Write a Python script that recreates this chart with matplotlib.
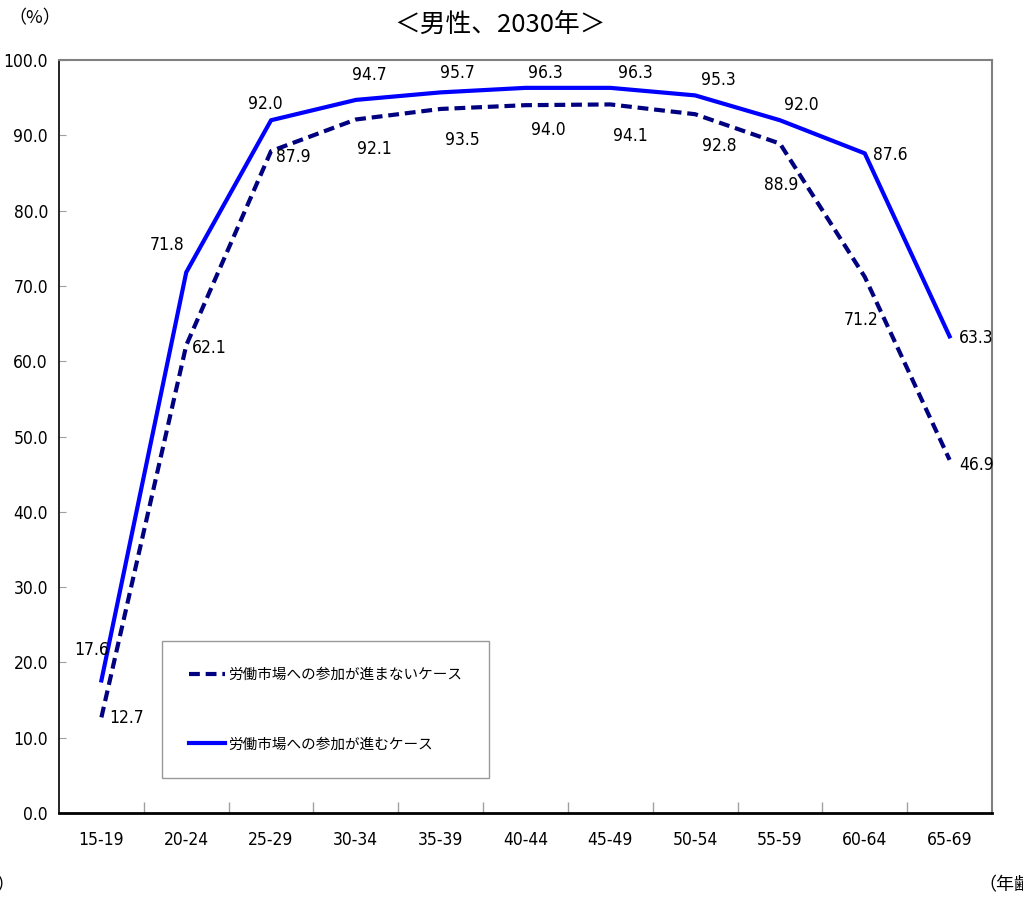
import matplotlib
matplotlib.use("Agg")
import matplotlib.pyplot as plt
from matplotlib import font_manager as fm

ages = ["15-19", "20-24", "25-29", "30-34", "35-39", "40-44",
        "45-49", "50-54", "55-59", "60-64", "65-69"]
no_progress = [12.7, 62.1, 87.9, 92.1, 93.5, 94.0, 94.1, 92.8, 88.9, 71.2, 46.9]
progress = [17.6, 71.8, 92.0, 94.7, 95.7, 96.3, 96.3, 95.3, 92.0, 87.6, 63.3]
yticks = [0, 10, 20, 30, 40, 50, 60, 70, 80, 90, 100]

label_no = "労働市場への参加が進まないケース"
label_yes = "労働市場への参加が進むケース"

# label offsets in pixels (layout only)
off_yes = [(-10, 30), (-19, 27), (-6, 16), (14, 25), (17, 19), (20, 15),
           (25, 15), (23, 15), (21, 15), (26, -2), (27, -2)]
off_no = [(25, -1), (23, -3), (22, -6), (19, -30), (22, -31), (23, -25),
          (20, -32), (24, -32), (1, -41), (-4, -43), (27, -5)]

num_prop = fm.FontProperties(family="DejaVu Sans", stretch="condensed")
jp = ["Noto Sans CJK JP", "DejaVu Sans"]

fig = plt.figure(figsize=(10.23, 9.01), dpi=100)
ax = fig.add_axes([59 / 1023, 1 - 813 / 901, (992 - 59) / 1023, (813 - 60) / 901])

x = list(range(len(ages)))
ax.plot(x, no_progress, color="#000080", lw=3, linestyle=(0, (2.6, 1.4)),
        label=label_no, solid_capstyle="butt")
ax.plot(x, progress, color="#0000FF", lw=3, label=label_yes)

nfs = 12.5
for i, v in enumerate(progress):
    ax.annotate(f"{v:.1f}", (i, v), xytext=off_yes[i], textcoords="offset pixels",
                ha="center", va="center", fontproperties=num_prop, fontsize=nfs)
for i, v in enumerate(no_progress):
    ax.annotate(f"{v:.1f}", (i, v), xytext=off_no[i], textcoords="offset pixels",
                ha="center", va="center", fontproperties=num_prop, fontsize=nfs)

ax.set_xlim(-0.5, len(ages) - 0.5)
ax.set_ylim(0, 100)
ax.set_yticks(yticks)
ax.set_yticklabels([f"{t:.1f}" for t in yticks])
ax.set_xticks(x)
ax.set_xticklabels(ages)
for lab in ax.get_xticklabels() + ax.get_yticklabels():
    lab.set_fontproperties(num_prop)
    lab.set_fontsize(nfs)
ax.tick_params(axis="x", length=0, pad=13)
ax.set_xticks([i + 0.5 for i in x[:-1]], minor=True)
ax.tick_params(axis="x", which="minor", direction="in", length=8, color="#a0a0a0", width=1)
ax.tick_params(axis="y", direction="in", length=5, color="#a0a0a0", pad=8)

for s in ["top", "right"]:
    ax.spines[s].set_color("#808080")
    ax.spines[s].set_linewidth(1.5)
ax.spines["left"].set_color("black")
ax.spines["left"].set_linewidth(1.2)
ax.spines["bottom"].set_color("black")
ax.spines["bottom"].set_linewidth(2)

leg = ax.legend(loc="upper left", bbox_to_anchor=((162 - 59) / 933, (813 - 641) / 753),
                prop={"family": jp, "size": 10.5}, frameon=True, fancybox=False,
                edgecolor="#808080", handlelength=2.5, handletextpad=0.2,
                labelspacing=3.8, borderpad=1.85, borderaxespad=0)
leg.get_frame().set_linewidth(1.0)

fig.text(500 / 1023, 1 - 25 / 901, "＜男性、2030年＞", ha="center", va="center",
         fontsize=18.5, family=jp)
fig.text(35 / 1023, 1 - 18 / 901, "（%）", ha="center", va="center", fontsize=13, family=jp)
fig.text(978 / 1023, 1 - 885 / 901, "（年齢）", ha="left", va="center", fontsize=13, family=jp)
fig.text(-4 / 1023, 1 - 885 / 901, "）", ha="left", va="center", fontsize=13, family=jp)

fig.savefig("out.png", dpi=100)
